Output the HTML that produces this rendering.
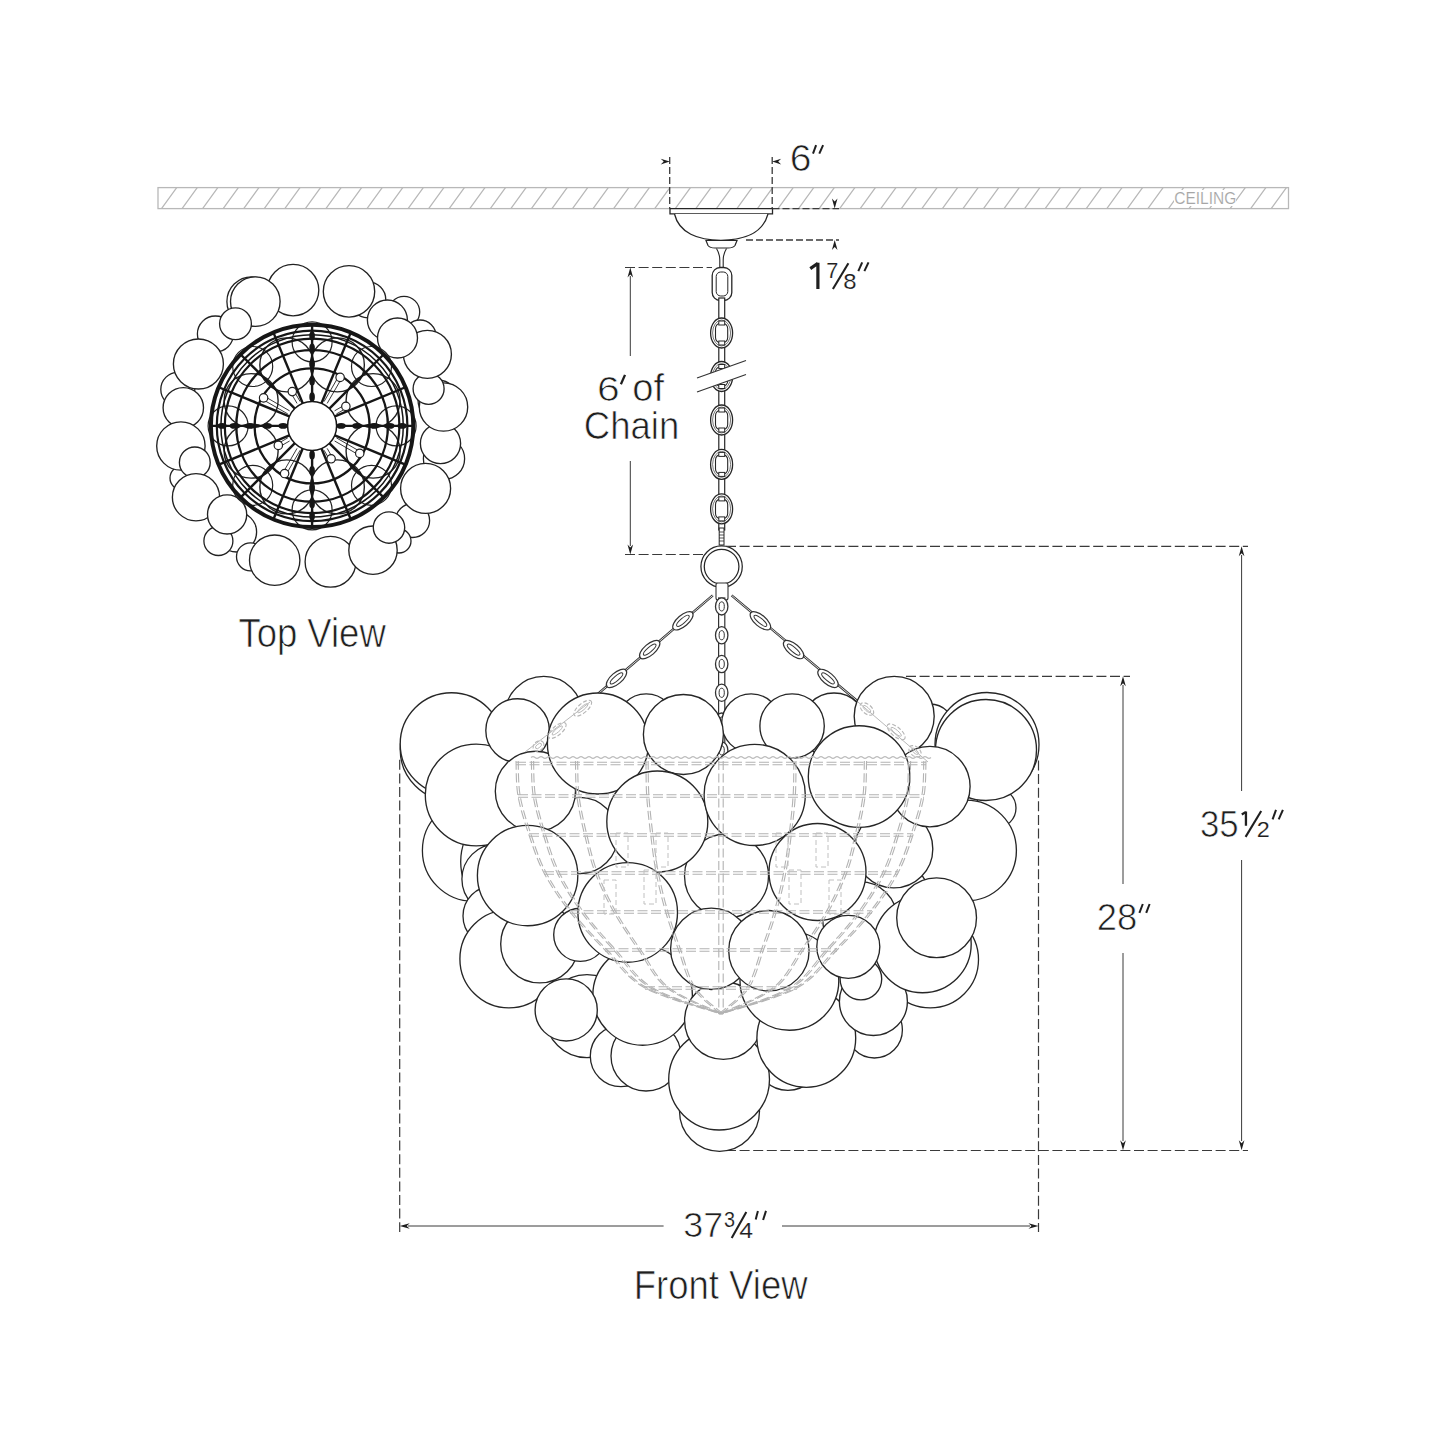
<!DOCTYPE html>
<html><head><meta charset="utf-8"><style>
html,body{margin:0;padding:0;background:#fff;}
body{width:1445px;height:1445px;overflow:hidden;}
svg{display:block;}
text{font-family:"Liberation Sans",sans-serif;}
</style></head><body>
<svg width="1445" height="1445" viewBox="0 0 1445 1445">
<rect width="1445" height="1445" fill="#fff"/>
<clipPath id="ceil"><rect x="158" y="187.6" width="1130.5" height="21.0"/></clipPath>
<path d="M120.4,208.6L135.6,187.6M140.95,208.6L156.15,187.6M161.5,208.6L176.7,187.6M182.05,208.6L197.25,187.6M202.6,208.6L217.8,187.6M223.15,208.6L238.35,187.6M243.7,208.6L258.9,187.6M264.25,208.6L279.45,187.6M284.8,208.6L300,187.6M305.35,208.6L320.55,187.6M325.9,208.6L341.1,187.6M346.45,208.6L361.65,187.6M367,208.6L382.2,187.6M387.55,208.6L402.75,187.6M408.1,208.6L423.3,187.6M428.65,208.6L443.85,187.6M449.2,208.6L464.4,187.6M469.75,208.6L484.95,187.6M490.3,208.6L505.5,187.6M510.85,208.6L526.05,187.6M531.4,208.6L546.6,187.6M551.95,208.6L567.15,187.6M572.5,208.6L587.7,187.6M593.05,208.6L608.25,187.6M613.6,208.6L628.8,187.6M634.15,208.6L649.35,187.6M654.7,208.6L669.9,187.6M675.25,208.6L690.45,187.6M695.8,208.6L711,187.6M716.35,208.6L731.55,187.6M736.9,208.6L752.1,187.6M757.45,208.6L772.65,187.6M778,208.6L793.2,187.6M798.55,208.6L813.75,187.6M819.1,208.6L834.3,187.6M839.65,208.6L854.85,187.6M860.2,208.6L875.4,187.6M880.75,208.6L895.95,187.6M901.3,208.6L916.5,187.6M921.85,208.6L937.05,187.6M942.4,208.6L957.6,187.6M962.95,208.6L978.15,187.6M983.5,208.6L998.7,187.6M1004.05,208.6L1019.25,187.6M1024.6,208.6L1039.8,187.6M1045.15,208.6L1060.35,187.6M1065.7,208.6L1080.9,187.6M1086.25,208.6L1101.45,187.6M1106.8,208.6L1122,187.6M1127.35,208.6L1142.55,187.6M1147.9,208.6L1163.1,187.6M1168.45,208.6L1183.65,187.6M1189,208.6L1204.2,187.6M1209.55,208.6L1224.75,187.6M1230.1,208.6L1245.3,187.6M1250.65,208.6L1265.85,187.6M1271.2,208.6L1286.4,187.6M1291.75,208.6L1306.95,187.6" stroke="#b8b8b8" stroke-width="1.25" fill="none" clip-path="url(#ceil)"/>
<rect x="1174" y="190" width="62" height="16" fill="#fff"/>
<rect x="158" y="187.6" width="1130.5" height="21.0" fill="none" stroke="#b8b8b8" stroke-width="1.3"/>
<line x1="669.7" y1="157" x2="669.7" y2="208.6" stroke="#3a3a3a" stroke-width="1.3" stroke-dasharray="7 3"/>
<line x1="772.2" y1="157" x2="772.2" y2="208.6" stroke="#3a3a3a" stroke-width="1.3" stroke-dasharray="7 3"/>
<path d="M669.7,161.6 L660.7,164.4 L663.7,161.6 L660.7,158.8 Z" fill="#1e1e1e"/>
<path d="M772.2,161.6 L781.2,158.8 L778.2,161.6 L781.2,164.4 Z" fill="#1e1e1e"/>
<path d="M670,208.6 L772.5,208.6 L772.5,213.8 L670,213.8 Z" fill="#fff" stroke="#262626" stroke-width="1.3"/>
<path d="M674.5,214 C679,233 698,240.3 721,240.3 C744,240.3 763,233 768,214" fill="#fff" stroke="#262626" stroke-width="1.3"/>
<path d="M706,240.5 L737,240.5 L735,245.5 Q733,248 728,248 L715,248 Q710,248 708,245.5 Z" fill="#fff" stroke="#262626" stroke-width="1.2"/>
<path d="M716.5,248.5 Q719.8,254 719.8,260 L719.8,268 M726.5,248.5 Q723.2,254 723.2,260 L723.2,268" fill="none" stroke="#262626" stroke-width="1.1"/>
<line x1="772.5" y1="208.6" x2="839" y2="208.6" stroke="#3a3a3a" stroke-width="1.3" stroke-dasharray="7 3"/>
<path d="M834.7,208.6 L831.9,198.6 L834.7,201.6 L837.5,198.6 Z" fill="#1e1e1e"/>
<line x1="746" y1="240" x2="839" y2="240" stroke="#3a3a3a" stroke-width="1.3" stroke-dasharray="7 3"/>
<path d="M834.7,240 L837.5,250 L834.7,247 L831.9,250 Z" fill="#1e1e1e"/>
<rect x="712.2" y="267.5" width="19.6" height="33" rx="8" fill="#fff" stroke="#262626" stroke-width="1.3"/>
<rect x="716.2" y="272" width="11.6" height="24" rx="4.5" fill="none" stroke="#262626" stroke-width="1"/>
<rect x="718.8" y="298" width="5.9" height="232" fill="#fff" stroke="#262626" stroke-width="1.2"/>
<ellipse cx="721.6" cy="333" rx="11" ry="15" fill="#fff" stroke="#262626" stroke-width="1.3"/>
<ellipse cx="721.6" cy="333" rx="9" ry="13" fill="none" stroke="#555" stroke-width="0.8"/>
<rect x="715.5" y="323" width="12.2" height="20" rx="5.5" fill="#fff" stroke="#262626" stroke-width="1.1"/>
<rect x="718.8" y="321" width="5.9" height="4" fill="#fff" stroke="#262626" stroke-width="1.0"/>
<rect x="718.8" y="341" width="5.9" height="4" fill="#fff" stroke="#262626" stroke-width="1.0"/>
<ellipse cx="721.6" cy="376.5" rx="11" ry="15" fill="#fff" stroke="#262626" stroke-width="1.3"/>
<ellipse cx="721.6" cy="376.5" rx="9" ry="13" fill="none" stroke="#555" stroke-width="0.8"/>
<rect x="715.5" y="366.5" width="12.2" height="20" rx="5.5" fill="#fff" stroke="#262626" stroke-width="1.1"/>
<rect x="718.8" y="364.5" width="5.9" height="4" fill="#fff" stroke="#262626" stroke-width="1.0"/>
<rect x="718.8" y="384.5" width="5.9" height="4" fill="#fff" stroke="#262626" stroke-width="1.0"/>
<ellipse cx="721.6" cy="420" rx="11" ry="15" fill="#fff" stroke="#262626" stroke-width="1.3"/>
<ellipse cx="721.6" cy="420" rx="9" ry="13" fill="none" stroke="#555" stroke-width="0.8"/>
<rect x="715.5" y="410" width="12.2" height="20" rx="5.5" fill="#fff" stroke="#262626" stroke-width="1.1"/>
<rect x="718.8" y="408" width="5.9" height="4" fill="#fff" stroke="#262626" stroke-width="1.0"/>
<rect x="718.8" y="428" width="5.9" height="4" fill="#fff" stroke="#262626" stroke-width="1.0"/>
<ellipse cx="721.6" cy="464.4" rx="11" ry="15" fill="#fff" stroke="#262626" stroke-width="1.3"/>
<ellipse cx="721.6" cy="464.4" rx="9" ry="13" fill="none" stroke="#555" stroke-width="0.8"/>
<rect x="715.5" y="454.4" width="12.2" height="20" rx="5.5" fill="#fff" stroke="#262626" stroke-width="1.1"/>
<rect x="718.8" y="452.4" width="5.9" height="4" fill="#fff" stroke="#262626" stroke-width="1.0"/>
<rect x="718.8" y="472.4" width="5.9" height="4" fill="#fff" stroke="#262626" stroke-width="1.0"/>
<ellipse cx="721.6" cy="508.9" rx="11" ry="15" fill="#fff" stroke="#262626" stroke-width="1.3"/>
<ellipse cx="721.6" cy="508.9" rx="9" ry="13" fill="none" stroke="#555" stroke-width="0.8"/>
<rect x="715.5" y="498.9" width="12.2" height="20" rx="5.5" fill="#fff" stroke="#262626" stroke-width="1.1"/>
<rect x="718.8" y="496.9" width="5.9" height="4" fill="#fff" stroke="#262626" stroke-width="1.0"/>
<rect x="718.8" y="516.9" width="5.9" height="4" fill="#fff" stroke="#262626" stroke-width="1.0"/>
<path d="M697,378 L746,360.5 L746,374.5 L697,392 Z" fill="#fff" stroke="none"/>
<line x1="697" y1="378" x2="746" y2="360.5" stroke="#333" stroke-width="1.2" />
<line x1="697" y1="392" x2="746" y2="374.5" stroke="#333" stroke-width="1.2" />
<rect x="719.2" y="528" width="4.8" height="17" fill="#fff" stroke="#262626" stroke-width="1"/>
<path d="M719,532 h5 M719,535 h5 M719,538 h5 M719,541 h5" stroke="#262626" stroke-width="0.8"/>
<circle cx="721.6" cy="566.6" r="19" fill="none" stroke="#262626" stroke-width="4.6"/>
<circle cx="721.6" cy="566.6" r="19" fill="none" stroke="#fff" stroke-width="2.1"/>
<line x1="625" y1="267.5" x2="712" y2="267.5" stroke="#3a3a3a" stroke-width="1.2" stroke-dasharray="10 3.6"/>
<line x1="625" y1="554.5" x2="705" y2="554.5" stroke="#3a3a3a" stroke-width="1.2" stroke-dasharray="10 3.6"/>
<line x1="630.3" y1="276" x2="630.3" y2="356" stroke="#3a3a3a" stroke-width="1.0" />
<line x1="630.3" y1="461" x2="630.3" y2="546" stroke="#3a3a3a" stroke-width="1.0" />
<path d="M630.3,267.5 L633.1,277.5 L630.3,274.5 L627.5,277.5 Z" fill="#1e1e1e"/>
<path d="M630.3,554.5 L627.5,544.5 L630.3,547.5 L633.1,544.5 Z" fill="#1e1e1e"/>
<line x1="726" y1="546.3" x2="1248" y2="546.3" stroke="#3a3a3a" stroke-width="1.2" stroke-dasharray="10 3.6"/>
<line x1="1241.6" y1="555" x2="1241.6" y2="791" stroke="#3a3a3a" stroke-width="1.0" />
<line x1="1241.6" y1="860" x2="1241.6" y2="1141" stroke="#3a3a3a" stroke-width="1.0" />
<path d="M1241.6,546.3 L1244.4,556.3 L1241.6,553.3 L1238.8,556.3 Z" fill="#1e1e1e"/>
<path d="M1241.6,1150.3 L1238.8,1140.3 L1241.6,1143.3 L1244.4,1140.3 Z" fill="#1e1e1e"/>
<line x1="906" y1="676.3" x2="1130" y2="676.3" stroke="#3a3a3a" stroke-width="1.2" stroke-dasharray="10 3.6"/>
<line x1="1123" y1="685" x2="1123" y2="884" stroke="#3a3a3a" stroke-width="1.0" />
<line x1="1123" y1="953" x2="1123" y2="1141" stroke="#3a3a3a" stroke-width="1.0" />
<path d="M1123,676.3 L1125.8,686.3 L1123,683.3 L1120.2,686.3 Z" fill="#1e1e1e"/>
<path d="M1123,1150.3 L1120.2,1140.3 L1123,1143.3 L1125.8,1140.3 Z" fill="#1e1e1e"/>
<line x1="726" y1="1150.5" x2="1248" y2="1150.5" stroke="#3a3a3a" stroke-width="1.2" stroke-dasharray="10 3.6"/>
<line x1="1038.5" y1="760.5" x2="1038.5" y2="1232" stroke="#3a3a3a" stroke-width="1.2" stroke-dasharray="10 3.6"/>
<line x1="399.7" y1="759.8" x2="399.7" y2="1232" stroke="#3a3a3a" stroke-width="1.2" stroke-dasharray="10 3.6"/>
<line x1="408" y1="1226" x2="663.6" y2="1226" stroke="#3a3a3a" stroke-width="1.0" />
<line x1="782" y1="1226" x2="1030" y2="1226" stroke="#3a3a3a" stroke-width="1.0" />
<path d="M399.7,1226 L409.7,1223.2 L406.7,1226 L409.7,1228.8 Z" fill="#1e1e1e"/>
<path d="M1038.5,1226 L1028.5,1228.8 L1031.5,1226 L1028.5,1223.2 Z" fill="#1e1e1e"/>
<circle cx="251.7" cy="301.6" r="24.8" fill="#fff" stroke="#222" stroke-width="1.3"/>
<circle cx="215.4" cy="334" r="18" fill="#fff" stroke="#222" stroke-width="1.3"/>
<circle cx="367.8" cy="299.8" r="18" fill="#fff" stroke="#222" stroke-width="1.3"/>
<circle cx="404" cy="312" r="15.7" fill="#fff" stroke="#222" stroke-width="1.3"/>
<circle cx="177.8" cy="389.4" r="17" fill="#fff" stroke="#222" stroke-width="1.3"/>
<circle cx="182" cy="478" r="12" fill="#fff" stroke="#222" stroke-width="1.3"/>
<circle cx="236.6" cy="532" r="20" fill="#fff" stroke="#222" stroke-width="1.3"/>
<circle cx="218.4" cy="541" r="14.5" fill="#fff" stroke="#222" stroke-width="1.3"/>
<circle cx="444" cy="458.7" r="20.6" fill="#fff" stroke="#222" stroke-width="1.3"/>
<circle cx="412.6" cy="520.5" r="17" fill="#fff" stroke="#222" stroke-width="1.3"/>
<circle cx="250.5" cy="556.8" r="14" fill="#fff" stroke="#222" stroke-width="1.3"/>
<circle cx="399" cy="541" r="12" fill="#fff" stroke="#222" stroke-width="1.3"/>
<circle cx="438" cy="400" r="20" fill="#fff" stroke="#222" stroke-width="1.3"/>
<circle cx="420" cy="336" r="16" fill="#fff" stroke="#222" stroke-width="1.3"/>
<circle cx="293.1" cy="290.1" r="25.7" fill="#fff" stroke="#222" stroke-width="1.35"/>
<circle cx="349" cy="291.4" r="25.7" fill="#fff" stroke="#222" stroke-width="1.35"/>
<circle cx="255.3" cy="301.6" r="24.8" fill="#fff" stroke="#222" stroke-width="1.35"/>
<circle cx="235.5" cy="323.7" r="15.9" fill="#fff" stroke="#222" stroke-width="1.35"/>
<circle cx="198.4" cy="364" r="25" fill="#fff" stroke="#222" stroke-width="1.35"/>
<circle cx="183.3" cy="407.8" r="20.2" fill="#fff" stroke="#222" stroke-width="1.35"/>
<circle cx="180.9" cy="446" r="24.2" fill="#fff" stroke="#222" stroke-width="1.35"/>
<circle cx="194.8" cy="462.4" r="15.4" fill="#fff" stroke="#222" stroke-width="1.35"/>
<circle cx="196" cy="497.2" r="23.6" fill="#fff" stroke="#222" stroke-width="1.35"/>
<circle cx="227.1" cy="514.4" r="19.6" fill="#fff" stroke="#222" stroke-width="1.35"/>
<circle cx="274.7" cy="560.2" r="25.2" fill="#fff" stroke="#222" stroke-width="1.35"/>
<circle cx="330.5" cy="561.7" r="25.4" fill="#fff" stroke="#222" stroke-width="1.35"/>
<circle cx="373" cy="550.2" r="24.2" fill="#fff" stroke="#222" stroke-width="1.35"/>
<circle cx="389" cy="527.5" r="15.7" fill="#fff" stroke="#222" stroke-width="1.35"/>
<circle cx="425.6" cy="488.4" r="25" fill="#fff" stroke="#222" stroke-width="1.35"/>
<circle cx="440.5" cy="443.5" r="20.1" fill="#fff" stroke="#222" stroke-width="1.35"/>
<circle cx="443.5" cy="407" r="24.2" fill="#fff" stroke="#222" stroke-width="1.35"/>
<circle cx="428.6" cy="388.8" r="15.5" fill="#fff" stroke="#222" stroke-width="1.35"/>
<circle cx="427.4" cy="354.3" r="24" fill="#fff" stroke="#222" stroke-width="1.35"/>
<circle cx="387.4" cy="320" r="20" fill="#fff" stroke="#222" stroke-width="1.35"/>
<circle cx="397.5" cy="338" r="20" fill="#fff" stroke="#222" stroke-width="1.35"/>
<circle cx="312.1" cy="425.9" r="103" fill="#fff" stroke="none"/>
<circle cx="337.36" cy="364.92" r="27" fill="none" stroke="#222" stroke-width="1.4"/>
<circle cx="373.08" cy="400.64" r="27" fill="none" stroke="#222" stroke-width="1.4"/>
<circle cx="373.08" cy="451.16" r="27" fill="none" stroke="#222" stroke-width="1.4"/>
<circle cx="337.36" cy="486.88" r="27" fill="none" stroke="#222" stroke-width="1.4"/>
<circle cx="286.84" cy="486.88" r="27" fill="none" stroke="#222" stroke-width="1.4"/>
<circle cx="251.12" cy="451.16" r="27" fill="none" stroke="#222" stroke-width="1.4"/>
<circle cx="251.12" cy="400.64" r="27" fill="none" stroke="#222" stroke-width="1.4"/>
<circle cx="286.84" cy="364.92" r="27" fill="none" stroke="#222" stroke-width="1.4"/>
<circle cx="312.1" cy="341.9" r="20" fill="none" stroke="#222" stroke-width="1.2"/>
<circle cx="371.5" cy="366.5" r="20" fill="none" stroke="#222" stroke-width="1.2"/>
<circle cx="396.1" cy="425.9" r="20" fill="none" stroke="#222" stroke-width="1.2"/>
<circle cx="371.5" cy="485.3" r="20" fill="none" stroke="#222" stroke-width="1.2"/>
<circle cx="312.1" cy="509.9" r="20" fill="none" stroke="#222" stroke-width="1.2"/>
<circle cx="252.7" cy="485.3" r="20" fill="none" stroke="#222" stroke-width="1.2"/>
<circle cx="228.1" cy="425.9" r="20" fill="none" stroke="#222" stroke-width="1.2"/>
<circle cx="252.7" cy="366.5" r="20" fill="none" stroke="#222" stroke-width="1.2"/>
<circle cx="312.1" cy="425.9" r="101.2" fill="none" stroke="#161616" stroke-width="4.0"/>
<circle cx="312.1" cy="425.9" r="95.3" fill="none" stroke="#161616" stroke-width="2.2"/>
<circle cx="312.1" cy="425.9" r="91.2" fill="none" stroke="#161616" stroke-width="1.5"/>
<circle cx="312.1" cy="425.9" r="87.3" fill="none" stroke="#161616" stroke-width="2.2"/>
<circle cx="312.1" cy="425.9" r="75.8" fill="none" stroke="#161616" stroke-width="2.4"/>
<circle cx="312.1" cy="425.9" r="57.5" fill="none" stroke="#161616" stroke-width="2.4"/>
<line x1="336.1" y1="425.9" x2="413.1" y2="425.9" stroke="#161616" stroke-width="2.4"/>
<ellipse cx="341.1" cy="425.9" rx="4.6" ry="2.8" transform="rotate(0.0 341.1 425.9)" fill="#161616"/>
<ellipse cx="356.9" cy="425.9" rx="4.6" ry="2.8" transform="rotate(0.0 356.9 425.9)" fill="#161616"/>
<ellipse cx="374.4" cy="425.9" rx="4.6" ry="2.8" transform="rotate(0.0 374.4 425.9)" fill="#161616"/>
<ellipse cx="389.9" cy="425.9" rx="4.6" ry="2.8" transform="rotate(0.0 389.9 425.9)" fill="#161616"/>
<ellipse cx="402.1" cy="425.9" rx="4.6" ry="2.8" transform="rotate(0.0 402.1 425.9)" fill="#161616"/>
<line x1="334.27" y1="435.08" x2="405.41" y2="464.55" stroke="#161616" stroke-width="2.4"/>
<line x1="329.07" y1="442.87" x2="383.52" y2="497.32" stroke="#161616" stroke-width="2.4"/>
<line x1="321.28" y1="448.07" x2="350.75" y2="519.21" stroke="#161616" stroke-width="2.4"/>
<line x1="312.1" y1="449.9" x2="312.1" y2="526.9" stroke="#161616" stroke-width="2.4"/>
<ellipse cx="312.1" cy="454.9" rx="4.6" ry="2.8" transform="rotate(90.0 312.1 454.9)" fill="#161616"/>
<ellipse cx="312.1" cy="470.7" rx="4.6" ry="2.8" transform="rotate(90.0 312.1 470.7)" fill="#161616"/>
<ellipse cx="312.1" cy="488.2" rx="4.6" ry="2.8" transform="rotate(90.0 312.1 488.2)" fill="#161616"/>
<ellipse cx="312.1" cy="503.7" rx="4.6" ry="2.8" transform="rotate(90.0 312.1 503.7)" fill="#161616"/>
<ellipse cx="312.1" cy="515.9" rx="4.6" ry="2.8" transform="rotate(90.0 312.1 515.9)" fill="#161616"/>
<line x1="302.92" y1="448.07" x2="273.45" y2="519.21" stroke="#161616" stroke-width="2.4"/>
<line x1="295.13" y1="442.87" x2="240.68" y2="497.32" stroke="#161616" stroke-width="2.4"/>
<line x1="289.93" y1="435.08" x2="218.79" y2="464.55" stroke="#161616" stroke-width="2.4"/>
<line x1="288.1" y1="425.9" x2="211.1" y2="425.9" stroke="#161616" stroke-width="2.4"/>
<ellipse cx="283.1" cy="425.9" rx="4.6" ry="2.8" transform="rotate(180.0 283.1 425.9)" fill="#161616"/>
<ellipse cx="267.3" cy="425.9" rx="4.6" ry="2.8" transform="rotate(180.0 267.3 425.9)" fill="#161616"/>
<ellipse cx="249.8" cy="425.9" rx="4.6" ry="2.8" transform="rotate(180.0 249.8 425.9)" fill="#161616"/>
<ellipse cx="234.3" cy="425.9" rx="4.6" ry="2.8" transform="rotate(180.0 234.3 425.9)" fill="#161616"/>
<ellipse cx="222.1" cy="425.9" rx="4.6" ry="2.8" transform="rotate(180.0 222.1 425.9)" fill="#161616"/>
<line x1="289.93" y1="416.72" x2="218.79" y2="387.25" stroke="#161616" stroke-width="2.4"/>
<line x1="295.13" y1="408.93" x2="240.68" y2="354.48" stroke="#161616" stroke-width="2.4"/>
<line x1="302.92" y1="403.73" x2="273.45" y2="332.59" stroke="#161616" stroke-width="2.4"/>
<line x1="312.1" y1="401.9" x2="312.1" y2="324.9" stroke="#161616" stroke-width="2.4"/>
<ellipse cx="312.1" cy="396.9" rx="4.6" ry="2.8" transform="rotate(270.0 312.1 396.9)" fill="#161616"/>
<ellipse cx="312.1" cy="381.1" rx="4.6" ry="2.8" transform="rotate(270.0 312.1 381.1)" fill="#161616"/>
<ellipse cx="312.1" cy="363.6" rx="4.6" ry="2.8" transform="rotate(270.0 312.1 363.6)" fill="#161616"/>
<ellipse cx="312.1" cy="348.1" rx="4.6" ry="2.8" transform="rotate(270.0 312.1 348.1)" fill="#161616"/>
<ellipse cx="312.1" cy="335.9" rx="4.6" ry="2.8" transform="rotate(270.0 312.1 335.9)" fill="#161616"/>
<line x1="321.28" y1="403.73" x2="350.75" y2="332.59" stroke="#161616" stroke-width="2.4"/>
<line x1="329.07" y1="408.93" x2="383.52" y2="354.48" stroke="#161616" stroke-width="2.4"/>
<line x1="334.27" y1="416.72" x2="405.41" y2="387.25" stroke="#161616" stroke-width="2.4"/>
<path d="M289.62,410.84 L264.5,396.34 M287.82,413.96 L262.7,399.46" stroke="#222" stroke-width="0.9" fill="none"/>
<circle cx="263.6" cy="397.9" r="4.2" fill="#fff" stroke="#1e1e1e" stroke-width="1.2"/>
<path d="M300.16,401.62 L293.86,390.71 M297.04,403.42 L290.74,392.51" stroke="#222" stroke-width="0.9" fill="none"/>
<circle cx="292.3" cy="391.61" r="4.2" fill="#fff" stroke="#1e1e1e" stroke-width="1.2"/>
<path d="M327.16,403.42 L341.66,378.3 M324.04,401.62 L338.54,376.5" stroke="#222" stroke-width="0.9" fill="none"/>
<circle cx="340.1" cy="377.4" r="4.2" fill="#fff" stroke="#1e1e1e" stroke-width="1.2"/>
<path d="M336.38,413.96 L346.77,407.96 M334.58,410.84 L344.97,404.84" stroke="#222" stroke-width="0.9" fill="none"/>
<circle cx="345.87" cy="406.4" r="4.2" fill="#fff" stroke="#1e1e1e" stroke-width="1.2"/>
<path d="M334.58,440.96 L358.83,454.96 M336.38,437.84 L360.63,451.84" stroke="#222" stroke-width="0.9" fill="none"/>
<circle cx="359.73" cy="453.4" r="4.2" fill="#fff" stroke="#1e1e1e" stroke-width="1.2"/>
<path d="M324.04,450.18 L329.54,459.71 M327.16,448.38 L332.66,457.91" stroke="#222" stroke-width="0.9" fill="none"/>
<circle cx="331.1" cy="458.81" r="4.2" fill="#fff" stroke="#1e1e1e" stroke-width="1.2"/>
<path d="M297.04,448.38 L283.04,472.63 M300.16,450.18 L286.16,474.43" stroke="#222" stroke-width="0.9" fill="none"/>
<circle cx="284.6" cy="473.53" r="4.2" fill="#fff" stroke="#1e1e1e" stroke-width="1.2"/>
<path d="M287.82,437.84 L277.43,443.84 M289.62,440.96 L279.23,446.96" stroke="#222" stroke-width="0.9" fill="none"/>
<circle cx="278.33" cy="445.4" r="4.2" fill="#fff" stroke="#1e1e1e" stroke-width="1.2"/>
<circle cx="312.1" cy="425.9" r="24.5" fill="#fff" stroke="#161616" stroke-width="1.5"/>
<line x1="712.8" y1="595.4" x2="585" y2="705" stroke="#333" stroke-width="2.4" />
<line x1="712.8" y1="595.4" x2="585" y2="705" stroke="#fff" stroke-width="0.8" />
<ellipse cx="682.9" cy="620.8" rx="12.5" ry="5.6" transform="rotate(139.38 682.9 620.8)" fill="#fff" stroke="#333" stroke-width="1.2"/>
<ellipse cx="682.9" cy="620.8" rx="8" ry="2.4" transform="rotate(139.38 682.9 620.8)" fill="none" stroke="#333" stroke-width="1"/>
<ellipse cx="649.7" cy="649.6" rx="12.5" ry="5.6" transform="rotate(139.38 649.7 649.6)" fill="#fff" stroke="#333" stroke-width="1.2"/>
<ellipse cx="649.7" cy="649.6" rx="8" ry="2.4" transform="rotate(139.38 649.7 649.6)" fill="none" stroke="#333" stroke-width="1"/>
<ellipse cx="616.5" cy="678.4" rx="12.5" ry="5.6" transform="rotate(139.38 616.5 678.4)" fill="#fff" stroke="#333" stroke-width="1.2"/>
<ellipse cx="616.5" cy="678.4" rx="8" ry="2.4" transform="rotate(139.38 616.5 678.4)" fill="none" stroke="#333" stroke-width="1"/>
<line x1="731.6" y1="595.4" x2="862" y2="705" stroke="#333" stroke-width="2.4" />
<line x1="731.6" y1="595.4" x2="862" y2="705" stroke="#fff" stroke-width="0.8" />
<ellipse cx="760.4" cy="620.8" rx="12.5" ry="5.6" transform="rotate(40.05 760.4 620.8)" fill="#fff" stroke="#333" stroke-width="1.2"/>
<ellipse cx="760.4" cy="620.8" rx="8" ry="2.4" transform="rotate(40.05 760.4 620.8)" fill="none" stroke="#333" stroke-width="1"/>
<ellipse cx="793.6" cy="649.6" rx="12.5" ry="5.6" transform="rotate(40.05 793.6 649.6)" fill="#fff" stroke="#333" stroke-width="1.2"/>
<ellipse cx="793.6" cy="649.6" rx="8" ry="2.4" transform="rotate(40.05 793.6 649.6)" fill="none" stroke="#333" stroke-width="1"/>
<ellipse cx="828" cy="678.4" rx="12.5" ry="5.6" transform="rotate(40.05 828 678.4)" fill="#fff" stroke="#333" stroke-width="1.2"/>
<ellipse cx="828" cy="678.4" rx="8" ry="2.4" transform="rotate(40.05 828 678.4)" fill="none" stroke="#333" stroke-width="1"/>
<rect x="716" y="583" width="12" height="17" rx="2" fill="#fff" stroke="#333" stroke-width="1.1"/>
<rect x="718.6" y="598" width="6.2" height="170" fill="#fff" stroke="#333" stroke-width="1.2"/>
<ellipse cx="721.7" cy="606.4" rx="6.2" ry="8.6" fill="#fff" stroke="#333" stroke-width="1.3"/>
<ellipse cx="721.7" cy="606.4" rx="2.6" ry="4.6" fill="#fff" stroke="#333" stroke-width="1"/>
<ellipse cx="721.7" cy="635.2" rx="6.2" ry="8.6" fill="#fff" stroke="#333" stroke-width="1.3"/>
<ellipse cx="721.7" cy="635.2" rx="2.6" ry="4.6" fill="#fff" stroke="#333" stroke-width="1"/>
<ellipse cx="721.7" cy="664" rx="6.2" ry="8.6" fill="#fff" stroke="#333" stroke-width="1.3"/>
<ellipse cx="721.7" cy="664" rx="2.6" ry="4.6" fill="#fff" stroke="#333" stroke-width="1"/>
<ellipse cx="721.7" cy="692.8" rx="6.2" ry="8.6" fill="#fff" stroke="#333" stroke-width="1.3"/>
<ellipse cx="721.7" cy="692.8" rx="2.6" ry="4.6" fill="#fff" stroke="#333" stroke-width="1"/>
<ellipse cx="721.7" cy="721.6" rx="6.2" ry="8.6" fill="#fff" stroke="#333" stroke-width="1.3"/>
<ellipse cx="721.7" cy="721.6" rx="2.6" ry="4.6" fill="#fff" stroke="#333" stroke-width="1"/>
<ellipse cx="721.7" cy="750.4" rx="6.2" ry="8.6" fill="#fff" stroke="#333" stroke-width="1.3"/>
<ellipse cx="721.7" cy="750.4" rx="2.6" ry="4.6" fill="#fff" stroke="#333" stroke-width="1"/>
<circle cx="543.8" cy="715.2" r="38.8" fill="#fff" stroke="#262626" stroke-width="1.3"/>
<circle cx="646.2" cy="723.3" r="29.5" fill="#fff" stroke="#262626" stroke-width="1.3"/>
<circle cx="751.2" cy="723.3" r="29.5" fill="#fff" stroke="#262626" stroke-width="1.3"/>
<circle cx="834" cy="726" r="33" fill="#fff" stroke="#262626" stroke-width="1.3"/>
<circle cx="930" cy="728" r="24" fill="#fff" stroke="#262626" stroke-width="1.3"/>
<circle cx="987" cy="744.5" r="52" fill="#fff" stroke="#262626" stroke-width="1.3"/>
<circle cx="996" cy="808" r="20" fill="#fff" stroke="#262626" stroke-width="1.3"/>
<circle cx="451.5" cy="749.5" r="51.3" fill="#fff" stroke="#262626" stroke-width="1.3"/>
<circle cx="473.3" cy="850.4" r="50.9" fill="#fff" stroke="#262626" stroke-width="1.3"/>
<circle cx="516.5" cy="861.8" r="55.8" fill="#fff" stroke="#262626" stroke-width="1.3"/>
<circle cx="496.7" cy="879" r="34.8" fill="#fff" stroke="#262626" stroke-width="1.3"/>
<circle cx="493" cy="916" r="30" fill="#fff" stroke="#262626" stroke-width="1.3"/>
<circle cx="579.6" cy="835.5" r="38.2" fill="#fff" stroke="#262626" stroke-width="1.3"/>
<circle cx="726.5" cy="876" r="42" fill="#fff" stroke="#262626" stroke-width="1.3"/>
<circle cx="930.2" cy="959.6" r="48.3" fill="#fff" stroke="#262626" stroke-width="1.3"/>
<circle cx="859.8" cy="918.8" r="37.2" fill="#fff" stroke="#262626" stroke-width="1.3"/>
<circle cx="874.4" cy="1030" r="28" fill="#fff" stroke="#262626" stroke-width="1.3"/>
<circle cx="787.9" cy="1058.3" r="32" fill="#fff" stroke="#262626" stroke-width="1.3"/>
<circle cx="587" cy="1016.2" r="41.5" fill="#fff" stroke="#262626" stroke-width="1.3"/>
<circle cx="664" cy="1021" r="37.6" fill="#fff" stroke="#262626" stroke-width="1.3"/>
<circle cx="621" cy="1056" r="30.7" fill="#fff" stroke="#262626" stroke-width="1.3"/>
<circle cx="646" cy="1056" r="35" fill="#fff" stroke="#262626" stroke-width="1.3"/>
<circle cx="719.5" cy="1111.3" r="40" fill="#fff" stroke="#262626" stroke-width="1.3"/>
<circle cx="451.5" cy="744" r="51.3" fill="#fff" stroke="#262626" stroke-width="1.35"/>
<circle cx="476.2" cy="795" r="50.9" fill="#fff" stroke="#262626" stroke-width="1.35"/>
<circle cx="517.6" cy="730.5" r="31.8" fill="#fff" stroke="#262626" stroke-width="1.35"/>
<circle cx="535.4" cy="791.3" r="40.1" fill="#fff" stroke="#262626" stroke-width="1.35"/>
<circle cx="597.9" cy="743.5" r="50.5" fill="#fff" stroke="#262626" stroke-width="1.35"/>
<circle cx="683.4" cy="734.5" r="40" fill="#fff" stroke="#262626" stroke-width="1.35"/>
<circle cx="792.1" cy="726" r="32.2" fill="#fff" stroke="#262626" stroke-width="1.35"/>
<circle cx="894.2" cy="716.3" r="40" fill="#fff" stroke="#262626" stroke-width="1.35"/>
<circle cx="986" cy="750" r="50.5" fill="#fff" stroke="#262626" stroke-width="1.35"/>
<circle cx="657.3" cy="821.5" r="50.5" fill="#fff" stroke="#262626" stroke-width="1.35"/>
<circle cx="754.7" cy="794.9" r="50.6" fill="#fff" stroke="#262626" stroke-width="1.35"/>
<circle cx="966" cy="850.5" r="50.4" fill="#fff" stroke="#262626" stroke-width="1.35"/>
<circle cx="893.8" cy="848.9" r="39" fill="#fff" stroke="#262626" stroke-width="1.35"/>
<circle cx="929.9" cy="786.6" r="40.2" fill="#fff" stroke="#262626" stroke-width="1.35"/>
<circle cx="859.1" cy="776.5" r="50.8" fill="#fff" stroke="#262626" stroke-width="1.35"/>
<circle cx="508.9" cy="958.9" r="49" fill="#fff" stroke="#262626" stroke-width="1.35"/>
<circle cx="539.7" cy="943.9" r="39" fill="#fff" stroke="#262626" stroke-width="1.35"/>
<circle cx="580.3" cy="934.8" r="26.6" fill="#fff" stroke="#262626" stroke-width="1.35"/>
<circle cx="527.6" cy="875.5" r="50.2" fill="#fff" stroke="#262626" stroke-width="1.35"/>
<circle cx="817.5" cy="872" r="48.5" fill="#fff" stroke="#262626" stroke-width="1.35"/>
<circle cx="642.6" cy="995.4" r="49.8" fill="#fff" stroke="#262626" stroke-width="1.35"/>
<circle cx="627.7" cy="912.4" r="49.8" fill="#fff" stroke="#262626" stroke-width="1.35"/>
<circle cx="566.2" cy="1009.9" r="31.1" fill="#fff" stroke="#262626" stroke-width="1.35"/>
<circle cx="719.1" cy="1079.6" r="50.4" fill="#fff" stroke="#262626" stroke-width="1.35"/>
<circle cx="723.4" cy="1020.5" r="38.8" fill="#fff" stroke="#262626" stroke-width="1.35"/>
<circle cx="711.3" cy="948.8" r="40.7" fill="#fff" stroke="#262626" stroke-width="1.35"/>
<circle cx="806.3" cy="1037.9" r="49.4" fill="#fff" stroke="#262626" stroke-width="1.35"/>
<circle cx="789.4" cy="980.8" r="49.4" fill="#fff" stroke="#262626" stroke-width="1.35"/>
<circle cx="768.9" cy="950.7" r="40.2" fill="#fff" stroke="#262626" stroke-width="1.35"/>
<circle cx="873.4" cy="1001.5" r="34" fill="#fff" stroke="#262626" stroke-width="1.35"/>
<circle cx="922.5" cy="944" r="48.7" fill="#fff" stroke="#262626" stroke-width="1.35"/>
<circle cx="860.9" cy="979" r="20.8" fill="#fff" stroke="#262626" stroke-width="1.35"/>
<circle cx="936.6" cy="917.8" r="39.9" fill="#fff" stroke="#262626" stroke-width="1.35"/>
<circle cx="848.3" cy="946.8" r="31.5" fill="#fff" stroke="#262626" stroke-width="1.35"/>
<ellipse cx="582.8" cy="708.2" rx="11" ry="4.6" transform="rotate(-40.62 582.8 708.2)" fill="none" stroke="#b5b5b5" stroke-width="1.1" stroke-dasharray="4 2"/>
<ellipse cx="582.8" cy="708.2" rx="6.6" ry="1.8" transform="rotate(-40.62 582.8 708.2)" fill="none" stroke="#b5b5b5" stroke-width="0.9"/>
<ellipse cx="557.3" cy="730.5" rx="11" ry="4.6" transform="rotate(-40.62 557.3 730.5)" fill="none" stroke="#b5b5b5" stroke-width="1.1" stroke-dasharray="4 2"/>
<ellipse cx="557.3" cy="730.5" rx="6.6" ry="1.8" transform="rotate(-40.62 557.3 730.5)" fill="none" stroke="#b5b5b5" stroke-width="0.9"/>
<ellipse cx="538.5" cy="746" rx="6" ry="4.6" transform="rotate(-40.62 538.5 746)" fill="none" stroke="#b5b5b5" stroke-width="1.1" stroke-dasharray="4 2"/>
<ellipse cx="538.5" cy="746" rx="3.5999999999999996" ry="1.8" transform="rotate(-40.62 538.5 746)" fill="none" stroke="#b5b5b5" stroke-width="0.9"/>
<ellipse cx="866.9" cy="709" rx="8" ry="4.6" transform="rotate(40.05 866.9 709)" fill="none" stroke="#b5b5b5" stroke-width="1.1" stroke-dasharray="4 2"/>
<ellipse cx="866.9" cy="709" rx="4.8" ry="1.8" transform="rotate(40.05 866.9 709)" fill="none" stroke="#b5b5b5" stroke-width="0.9"/>
<ellipse cx="896.2" cy="731.8" rx="11" ry="4.6" transform="rotate(40.05 896.2 731.8)" fill="none" stroke="#b5b5b5" stroke-width="1.1" stroke-dasharray="4 2"/>
<ellipse cx="896.2" cy="731.8" rx="6.6" ry="1.8" transform="rotate(40.05 896.2 731.8)" fill="none" stroke="#b5b5b5" stroke-width="0.9"/>
<ellipse cx="915" cy="751.3" rx="7" ry="4.6" transform="rotate(40.05 915 751.3)" fill="none" stroke="#b5b5b5" stroke-width="1.1" stroke-dasharray="4 2"/>
<ellipse cx="915" cy="751.3" rx="4.2" ry="1.8" transform="rotate(40.05 915 751.3)" fill="none" stroke="#b5b5b5" stroke-width="0.9"/>
<line x1="590" y1="702" x2="525" y2="752" stroke="#b9b9b9" stroke-width="1.0" />
<line x1="858" y1="702" x2="928" y2="762" stroke="#b9b9b9" stroke-width="1.0" />
<path d="M516,761 C516.33,766.83 515.83,783.67 518,796 C520.17,808.33 524.67,822.17 529,835 C533.33,847.83 537.17,860.17 544,873 C550.83,885.83 559.83,899.17 570,912 C580.17,924.83 592.5,937.33 605,950 C617.5,962.67 625.67,977.33 645,988 C664.33,998.67 708.33,1009.67 721,1014" fill="none" stroke="#b3b3b3" stroke-width="1.1" stroke-dasharray="9 3.5"/>
<path d="M516,761 C516.33,766.83 515.83,783.67 518,796 C520.17,808.33 524.67,822.17 529,835 C533.33,847.83 537.17,860.17 544,873 C550.83,885.83 559.83,899.17 570,912 C580.17,924.83 592.5,937.33 605,950 C617.5,962.67 625.67,977.33 645,988 C664.33,998.67 708.33,1009.67 721,1014" transform="translate(2.2,0)" fill="none" stroke="#b3b3b3" stroke-width="1.1" stroke-dasharray="9 3.5"/>
<path d="M926,761 C925.67,766.83 926.17,783.67 924,796 C921.83,808.33 917.33,822.17 913,835 C908.67,847.83 904.83,860.17 898,873 C891.17,885.83 882.17,899.17 872,912 C861.83,924.83 849.5,937.33 837,950 C824.5,962.67 816.33,977.33 797,988 C777.67,998.67 733.67,1009.67 721,1014" fill="none" stroke="#b3b3b3" stroke-width="1.1" stroke-dasharray="9 3.5"/>
<path d="M926,761 C925.67,766.83 926.17,783.67 924,796 C921.83,808.33 917.33,822.17 913,835 C908.67,847.83 904.83,860.17 898,873 C891.17,885.83 882.17,899.17 872,912 C861.83,924.83 849.5,937.33 837,950 C824.5,962.67 816.33,977.33 797,988 C777.67,998.67 733.67,1009.67 721,1014" transform="translate(-2.2,0)" fill="none" stroke="#b3b3b3" stroke-width="1.1" stroke-dasharray="9 3.5"/>
<path d="M531.38,761 C531.68,766.83 531.22,783.67 533.23,796 C535.23,808.33 539.39,822.17 543.4,835 C547.41,847.83 550.95,860.17 557.27,873 C563.6,885.83 571.92,899.17 581.33,912 C590.73,924.83 602.14,937.33 613.7,950 C625.26,962.67 632.82,977.33 650.7,988 C668.58,998.67 709.28,1009.67 721,1014" fill="none" stroke="#b3b3b3" stroke-width="1.1" stroke-dasharray="9 3.5"/>
<path d="M531.38,761 C531.68,766.83 531.22,783.67 533.23,796 C535.23,808.33 539.39,822.17 543.4,835 C547.41,847.83 550.95,860.17 557.27,873 C563.6,885.83 571.92,899.17 581.33,912 C590.73,924.83 602.14,937.33 613.7,950 C625.26,962.67 632.82,977.33 650.7,988 C668.58,998.67 709.28,1009.67 721,1014" transform="translate(2.2,0)" fill="none" stroke="#b3b3b3" stroke-width="1.1" stroke-dasharray="9 3.5"/>
<path d="M910.62,761 C910.32,766.83 910.78,783.67 908.77,796 C906.77,808.33 902.61,822.17 898.6,835 C894.59,847.83 891.05,860.17 884.73,873 C878.4,885.83 870.08,899.17 860.67,912 C851.27,924.83 839.86,937.33 828.3,950 C816.74,962.67 809.18,977.33 791.3,988 C773.42,998.67 732.72,1009.67 721,1014" fill="none" stroke="#b3b3b3" stroke-width="1.1" stroke-dasharray="9 3.5"/>
<path d="M910.62,761 C910.32,766.83 910.78,783.67 908.77,796 C906.77,808.33 902.61,822.17 898.6,835 C894.59,847.83 891.05,860.17 884.73,873 C878.4,885.83 870.08,899.17 860.67,912 C851.27,924.83 839.86,937.33 828.3,950 C816.74,962.67 809.18,977.33 791.3,988 C773.42,998.67 732.72,1009.67 721,1014" transform="translate(-2.2,0)" fill="none" stroke="#b3b3b3" stroke-width="1.1" stroke-dasharray="9 3.5"/>
<path d="M575.45,761 C575.69,766.83 575.33,783.67 576.87,796 C578.41,808.33 581.6,822.17 584.68,835 C587.76,847.83 590.48,860.17 595.33,873 C600.18,885.83 606.57,899.17 613.79,912 C621.01,924.83 629.76,937.33 638.64,950 C647.51,962.67 653.31,977.33 667.04,988 C680.77,998.67 712.01,1009.67 721,1014" fill="none" stroke="#b3b3b3" stroke-width="1.1" stroke-dasharray="9 3.5"/>
<path d="M575.45,761 C575.69,766.83 575.33,783.67 576.87,796 C578.41,808.33 581.6,822.17 584.68,835 C587.76,847.83 590.48,860.17 595.33,873 C600.18,885.83 606.57,899.17 613.79,912 C621.01,924.83 629.76,937.33 638.64,950 C647.51,962.67 653.31,977.33 667.04,988 C680.77,998.67 712.01,1009.67 721,1014" transform="translate(2.2,0)" fill="none" stroke="#b3b3b3" stroke-width="1.1" stroke-dasharray="9 3.5"/>
<path d="M866.55,761 C866.31,766.83 866.67,783.67 865.13,796 C863.59,808.33 860.4,822.17 857.32,835 C854.24,847.83 851.52,860.17 846.67,873 C841.82,885.83 835.43,899.17 828.21,912 C820.99,924.83 812.24,937.33 803.36,950 C794.49,962.67 788.69,977.33 774.96,988 C761.23,998.67 729.99,1009.67 721,1014" fill="none" stroke="#b3b3b3" stroke-width="1.1" stroke-dasharray="9 3.5"/>
<path d="M866.55,761 C866.31,766.83 866.67,783.67 865.13,796 C863.59,808.33 860.4,822.17 857.32,835 C854.24,847.83 851.52,860.17 846.67,873 C841.82,885.83 835.43,899.17 828.21,912 C820.99,924.83 812.24,937.33 803.36,950 C794.49,962.67 788.69,977.33 774.96,988 C761.23,998.67 729.99,1009.67 721,1014" transform="translate(-2.2,0)" fill="none" stroke="#b3b3b3" stroke-width="1.1" stroke-dasharray="9 3.5"/>
<path d="M645.97,761 C646.09,766.83 645.91,783.67 646.7,796 C647.5,808.33 649.14,822.17 650.73,835 C652.31,847.83 653.72,860.17 656.22,873 C658.72,885.83 662.01,899.17 665.73,912 C669.46,924.83 673.97,937.33 678.54,950 C683.12,962.67 686.11,977.33 693.18,988 C700.26,998.67 716.36,1009.67 721,1014" fill="none" stroke="#b3b3b3" stroke-width="1.1" stroke-dasharray="9 3.5"/>
<path d="M645.97,761 C646.09,766.83 645.91,783.67 646.7,796 C647.5,808.33 649.14,822.17 650.73,835 C652.31,847.83 653.72,860.17 656.22,873 C658.72,885.83 662.01,899.17 665.73,912 C669.46,924.83 673.97,937.33 678.54,950 C683.12,962.67 686.11,977.33 693.18,988 C700.26,998.67 716.36,1009.67 721,1014" transform="translate(2.2,0)" fill="none" stroke="#b3b3b3" stroke-width="1.1" stroke-dasharray="9 3.5"/>
<path d="M796.03,761 C795.91,766.83 796.09,783.67 795.3,796 C794.5,808.33 792.86,822.17 791.27,835 C789.69,847.83 788.28,860.17 785.78,873 C783.28,885.83 779.99,899.17 776.27,912 C772.54,924.83 768.03,937.33 763.46,950 C758.88,962.67 755.89,977.33 748.82,988 C741.74,998.67 725.64,1009.67 721,1014" fill="none" stroke="#b3b3b3" stroke-width="1.1" stroke-dasharray="9 3.5"/>
<path d="M796.03,761 C795.91,766.83 796.09,783.67 795.3,796 C794.5,808.33 792.86,822.17 791.27,835 C789.69,847.83 788.28,860.17 785.78,873 C783.28,885.83 779.99,899.17 776.27,912 C772.54,924.83 768.03,937.33 763.46,950 C758.88,962.67 755.89,977.33 748.82,988 C741.74,998.67 725.64,1009.67 721,1014" transform="translate(-2.2,0)" fill="none" stroke="#b3b3b3" stroke-width="1.1" stroke-dasharray="9 3.5"/>
<line x1="718.8" y1="761" x2="718.8" y2="1014" stroke="#b3b3b3" stroke-width="1.1" stroke-dasharray="9 3.5"/>
<line x1="723.2" y1="761" x2="723.2" y2="1014" stroke="#b3b3b3" stroke-width="1.1" stroke-dasharray="9 3.5"/>
<line x1="518" y1="794.8" x2="924" y2="794.8" stroke="#b3b3b3" stroke-width="1.1" stroke-dasharray="10 3.5"/>
<line x1="518" y1="797.2" x2="924" y2="797.2" stroke="#b3b3b3" stroke-width="1.1" stroke-dasharray="10 3.5"/>
<line x1="529" y1="833.8" x2="913" y2="833.8" stroke="#b3b3b3" stroke-width="1.1" stroke-dasharray="10 3.5"/>
<line x1="529" y1="836.2" x2="913" y2="836.2" stroke="#b3b3b3" stroke-width="1.1" stroke-dasharray="10 3.5"/>
<line x1="544" y1="871.8" x2="898" y2="871.8" stroke="#b3b3b3" stroke-width="1.1" stroke-dasharray="10 3.5"/>
<line x1="544" y1="874.2" x2="898" y2="874.2" stroke="#b3b3b3" stroke-width="1.1" stroke-dasharray="10 3.5"/>
<line x1="570" y1="910.8" x2="872" y2="910.8" stroke="#b3b3b3" stroke-width="1.1" stroke-dasharray="10 3.5"/>
<line x1="570" y1="913.2" x2="872" y2="913.2" stroke="#b3b3b3" stroke-width="1.1" stroke-dasharray="10 3.5"/>
<line x1="605" y1="948.8" x2="837" y2="948.8" stroke="#b3b3b3" stroke-width="1.1" stroke-dasharray="10 3.5"/>
<line x1="605" y1="951.2" x2="837" y2="951.2" stroke="#b3b3b3" stroke-width="1.1" stroke-dasharray="10 3.5"/>
<line x1="645" y1="986.8" x2="797" y2="986.8" stroke="#b3b3b3" stroke-width="1.1" stroke-dasharray="10 3.5"/>
<line x1="645" y1="989.2" x2="797" y2="989.2" stroke="#b3b3b3" stroke-width="1.1" stroke-dasharray="10 3.5"/>
<line x1="516" y1="762.3" x2="926" y2="762.3" stroke="#b3b3b3" stroke-width="1.1" stroke-dasharray="10 3.5"/>
<line x1="516" y1="764.7" x2="926" y2="764.7" stroke="#b3b3b3" stroke-width="1.1" stroke-dasharray="10 3.5"/>
<path d="M531,757.5 q2,-1.8 4,0 q2,1.8 4,0 q2,-1.8 4,0 q2,1.8 4,0 q2,-1.8 4,0 q2,1.8 4,0 q2,-1.8 4,0 q2,1.8 4,0 q2,-1.8 4,0 q2,1.8 4,0 q2,-1.8 4,0 q2,1.8 4,0 q2,-1.8 4,0 q2,1.8 4,0 q2,-1.8 4,0 q2,1.8 4,0 q2,-1.8 4,0 q2,1.8 4,0 q2,-1.8 4,0 q2,1.8 4,0 q2,-1.8 4,0 q2,1.8 4,0 q2,-1.8 4,0 q2,1.8 4,0 q2,-1.8 4,0 q2,1.8 4,0 q2,-1.8 4,0 q2,1.8 4,0 q2,-1.8 4,0 q2,1.8 4,0 q2,-1.8 4,0 q2,1.8 4,0 q2,-1.8 4,0 q2,1.8 4,0 q2,-1.8 4,0 q2,1.8 4,0 q2,-1.8 4,0 q2,1.8 4,0 q2,-1.8 4,0 q2,1.8 4,0 q2,-1.8 4,0 q2,1.8 4,0 q2,-1.8 4,0 q2,1.8 4,0 q2,-1.8 4,0 q2,1.8 4,0 q2,-1.8 4,0 q2,1.8 4,0 q2,-1.8 4,0 q2,1.8 4,0 q2,-1.8 4,0 q2,1.8 4,0 q2,-1.8 4,0 q2,1.8 4,0 q2,-1.8 4,0 q2,1.8 4,0 q2,-1.8 4,0 q2,1.8 4,0 q2,-1.8 4,0 q2,1.8 4,0 q2,-1.8 4,0 q2,1.8 4,0 q2,-1.8 4,0 q2,1.8 4,0 q2,-1.8 4,0 q2,1.8 4,0 q2,-1.8 4,0 q2,1.8 4,0 q2,-1.8 4,0 q2,1.8 4,0 q2,-1.8 4,0 q2,1.8 4,0 q2,-1.8 4,0 q2,1.8 4,0 q2,-1.8 4,0 q2,1.8 4,0 q2,-1.8 4,0 q2,1.8 4,0 q2,-1.8 4,0 q2,1.8 4,0 q2,-1.8 4,0 q2,1.8 4,0 q2,-1.8 4,0 q2,1.8 4,0 q2,-1.8 4,0 q2,1.8 4,0 q2,-1.8 4,0 q2,1.8 4,0 q2,-1.8 4,0 q2,1.8 4,0 q2,-1.8 4,0 q2,1.8 4,0 q2,-1.8 4,0 q2,1.8 4,0 q2,-1.8 4,0 q2,1.8 4,0 q2,-1.8 4,0 q2,1.8 4,0 q2,-1.8 4,0 q2,1.8 4,0" fill="none" stroke="#bdbdbd" stroke-width="1.1"/>
<rect x="616" y="833" width="12" height="34" fill="none" stroke="#c0c0c0" stroke-width="1" stroke-dasharray="5 3"/>
<rect x="656" y="833" width="12" height="34" fill="none" stroke="#c0c0c0" stroke-width="1" stroke-dasharray="5 3"/>
<rect x="776" y="833" width="12" height="34" fill="none" stroke="#c0c0c0" stroke-width="1" stroke-dasharray="5 3"/>
<rect x="816" y="833" width="12" height="34" fill="none" stroke="#c0c0c0" stroke-width="1" stroke-dasharray="5 3"/>
<rect x="644" y="870" width="12" height="34" fill="none" stroke="#c0c0c0" stroke-width="1" stroke-dasharray="5 3"/>
<rect x="789" y="870" width="12" height="34" fill="none" stroke="#c0c0c0" stroke-width="1" stroke-dasharray="5 3"/>
<rect x="604" y="880" width="12" height="34" fill="none" stroke="#c0c0c0" stroke-width="1" stroke-dasharray="5 3"/>
<rect x="829" y="880" width="12" height="34" fill="none" stroke="#c0c0c0" stroke-width="1" stroke-dasharray="5 3"/>
<text transform="translate(789.74,171.34) scale(1.07,1)" font-size="36.48" fill="#1f1f1f" stroke="#fff" stroke-width="0.7" >6</text>
<line x1="816.1" y1="145.1" x2="813" y2="153.6" stroke="#1f1f1f" stroke-width="2.0" stroke-linecap="butt"/>
<line x1="823.1" y1="145.1" x2="819.3" y2="153.7" stroke="#1f1f1f" stroke-width="2.0" stroke-linecap="butt"/>
<path d="M817.9,262.8 L817.9,289 M817.9,263.3 L810.3,268.56" stroke="#1f1f1f" stroke-width="3.2" fill="none"/>
<text transform="translate(826.21,278.3) scale(0.98,1)" font-size="22.17" fill="#1f1f1f" stroke="#fff" stroke-width="0.15" >7</text>
<line x1="832.9" y1="289" x2="848.4" y2="263.3" stroke="#1f1f1f" stroke-width="2.1" stroke-linecap="butt"/>
<text transform="translate(843.13,289.27) scale(1.06,1)" font-size="22.54" fill="#1f1f1f" stroke="#fff" stroke-width="0.15" >8</text>
<line x1="862.2" y1="262.4" x2="858.3" y2="271.1" stroke="#1f1f1f" stroke-width="2.0" stroke-linecap="butt"/>
<line x1="868.5" y1="262.4" x2="864.4" y2="271.1" stroke="#1f1f1f" stroke-width="2.0" stroke-linecap="butt"/>
<text transform="translate(597.07,401.04) scale(1.14,1)" font-size="35.77" fill="#1f1f1f" stroke="#fff" stroke-width="0.7" >6</text>
<line x1="625" y1="374.9" x2="620.9" y2="384.3" stroke="#1f1f1f" stroke-width="2.3" stroke-linecap="butt"/>
<text transform="translate(632.28,401.01) scale(0.98,1)" font-size="38.91" fill="#1f1f1f" stroke="#fff" stroke-width="0.7" >of</text>
<text transform="translate(583.78,439.41) scale(0.95,1)" font-size="38.5" fill="#1f1f1f" stroke="#fff" stroke-width="0.7" >Chain</text>
<text transform="translate(238.39,647.1) scale(0.89,1)" font-size="40.99" fill="#1f1f1f" stroke="#fff" stroke-width="0.7">Top View</text>
<text transform="translate(633.77,1299.3) scale(0.91,1)" font-size="40.12" fill="#1f1f1f" stroke="#fff" stroke-width="0.7">Front View</text>
<text transform="translate(1200.01,836.93) scale(0.94,1)" font-size="37.04" fill="#1f1f1f" stroke="#fff" stroke-width="0.7" >35</text>
<path d="M1245.95,811.4 L1245.95,825.8 M1245.95,811.9 L1241.8,814.57" stroke="#1f1f1f" stroke-width="2.3" fill="none"/>
<line x1="1245.6" y1="836.9" x2="1261.2" y2="811" stroke="#1f1f1f" stroke-width="2.1" stroke-linecap="butt"/>
<text transform="translate(1256.64,836.9) scale(1.05,1)" font-size="22.29" fill="#1f1f1f" stroke="#fff" stroke-width="0.15" >2</text>
<line x1="1276" y1="809.8" x2="1272.6" y2="819.4" stroke="#1f1f1f" stroke-width="2.0" stroke-linecap="butt"/>
<line x1="1282.9" y1="809.8" x2="1278.7" y2="819.4" stroke="#1f1f1f" stroke-width="2.0" stroke-linecap="butt"/>
<text transform="translate(1096.67,930.33) scale(0.98,1)" font-size="37.18" fill="#1f1f1f" stroke="#fff" stroke-width="0.7" >28</text>
<line x1="1142.8" y1="904" x2="1139.4" y2="912.8" stroke="#1f1f1f" stroke-width="2.0" stroke-linecap="butt"/>
<line x1="1149.6" y1="904" x2="1146.2" y2="912.8" stroke="#1f1f1f" stroke-width="2.0" stroke-linecap="butt"/>
<text transform="translate(683.26,1237.34) scale(1,1)" font-size="35.92" fill="#1f1f1f" stroke="#fff" stroke-width="0.7" >37</text>
<text transform="translate(724,1227.49) scale(0.93,1)" font-size="21.41" fill="#1f1f1f" stroke="#fff" stroke-width="0.15" >3</text>
<line x1="731.7" y1="1238" x2="746.3" y2="1211.9" stroke="#1f1f1f" stroke-width="2.1" stroke-linecap="butt"/>
<text transform="translate(739.18,1237.7) scale(1.15,1)" font-size="21.59" fill="#1f1f1f" stroke="#fff" stroke-width="0.15" >4</text>
<line x1="757.9" y1="1210.9" x2="755.7" y2="1219.6" stroke="#1f1f1f" stroke-width="2.0" stroke-linecap="butt"/>
<line x1="766" y1="1210.9" x2="763.1" y2="1220" stroke="#1f1f1f" stroke-width="2.0" stroke-linecap="butt"/>
<text transform="translate(1174.23,204) scale(0.93,1)" font-size="16.71" fill="#a6a6a6" stroke="#fff" stroke-width="0.15" >CEILING</text>
</svg>
</body></html>
